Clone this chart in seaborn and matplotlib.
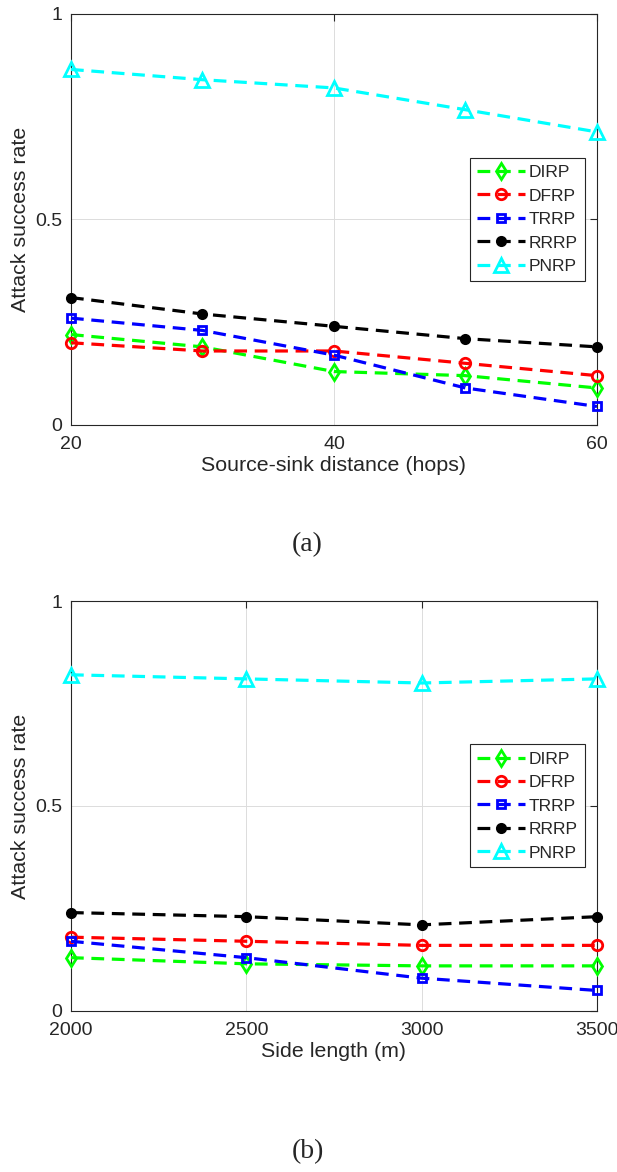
import matplotlib
matplotlib.use("Agg")
import matplotlib.pyplot as plt
import seaborn as sns
import pandas as pd

# ---------------- data ----------------
schemes = ["DIRP", "DFRP", "TRRP", "RRRP", "PNRP"]

hops = [20, 30, 40, 50, 60]
a_dirp = [0.22, 0.19, 0.13, 0.12, 0.09]
a_dfrp = [0.20, 0.18, 0.18, 0.15, 0.12]
a_trrp = [0.26, 0.23, 0.17, 0.09, 0.045]
a_rrrp = [0.31, 0.27, 0.24, 0.21, 0.19]
a_pnrp = [0.865, 0.84, 0.82, 0.767, 0.713]

side = [2000, 2500, 3000, 3500]
b_dirp = [0.13, 0.115, 0.11, 0.11]
b_dfrp = [0.18, 0.17, 0.16, 0.16]
b_trrp = [0.17, 0.13, 0.08, 0.05]
b_rrrp = [0.24, 0.23, 0.21, 0.23]
b_pnrp = [0.82, 0.81, 0.80, 0.81]

yticks = [0, 0.5, 1]
ytick_labels = ["0", "0.5", "1"]
xticks_a = [20, 40, 60]
xticks_b = [2000, 2500, 3000, 3500]
xlabel_a = "Source-sink distance (hops)"
xlabel_b = "Side length (m)"
ylabel = "Attack success rate"

# ---------------- styles ----------------
styles = {
    "DIRP": dict(color="#00FF00", marker="d", ms=8.5, mfc="none"),
    "DFRP": dict(color="#FF0000", marker="o", ms=7.5, mfc="none"),
    "TRRP": dict(color="#0000FF", marker="s", ms=6, mfc="none"),
    "RRRP": dict(color="#000000", marker="o", ms=6, mfc="#000000"),
    "PNRP": dict(color="#00FFFF", marker="^", ms=9.5, mfc="none"),
}

sns.set_style("white")
plt.rcParams["font.family"] = ["Liberation Sans", "DejaVu Sans"]

def long_df(x, series):
    rows = []
    for name, vals in zip(schemes, series):
        for xi, yi in zip(x, vals):
            rows.append({"x": xi, "rate": yi, "scheme": name})
    return pd.DataFrame(rows)

df_a = long_df(hops, [a_dirp, a_dfrp, a_trrp, a_rrrp, a_pnrp])
df_b = long_df(side, [b_dirp, b_dfrp, b_trrp, b_rrrp, b_pnrp])

fig = plt.figure(figsize=(6.17, 11.72), dpi=100)
ax1 = fig.add_axes([0.115, 0.6374, 0.8525, 0.3507])
ax2 = fig.add_axes([0.115, 0.1374, 0.8525, 0.3498])

def draw(ax, df, xlim, xticks, xlabel):
    for name in schemes:
        st = styles[name]
        sub = df[df["scheme"] == name]
        sns.lineplot(data=sub, x="x", y="rate", ax=ax, errorbar=None,
                     color=st["color"], marker=st["marker"],
                     markersize=st["ms"], markerfacecolor=st["mfc"],
                     markeredgecolor=st["color"], markeredgewidth=2.0,
                     linewidth=2.3, linestyle=(0, (4, 2.4)), label=name,
                     zorder=3, clip_on=False)
    ax.set_xlim(*xlim)
    ax.set_ylim(0, 1)
    ax.set_xticks(xticks)
    ax.set_xticklabels([str(t) for t in xticks])
    ax.set_yticks(yticks)
    ax.set_yticklabels(ytick_labels)
    ax.grid(True, color="#DCDCDC", linewidth=0.7)
    ax.set_axisbelow(True)
    for sp in ax.spines.values():
        sp.set_visible(True)
        sp.set_color("#262626")
        sp.set_linewidth(0.8)
    ax.tick_params(axis="both", direction="in", length=5, width=0.8,
                   top=True, right=True, labelsize=14, colors="#262626",
                   labelcolor="#262626")
    ax.tick_params(axis="x", pad=8)
    ax.tick_params(axis="y", pad=6)
    ax.set_xlabel(xlabel, fontsize=15.4, color="#262626", labelpad=2)
    ax.set_ylabel(ylabel, fontsize=15.4, color="#262626", labelpad=4)
    leg = ax.legend(loc="center right", bbox_to_anchor=(0.977, 0.5),
                    borderaxespad=0, fontsize=12.5, frameon=True,
                    fancybox=False, framealpha=1, edgecolor="#262626",
                    handlelength=2.8, handletextpad=0.2, labelspacing=0.48,
                    borderpad=0.4)
    leg.get_frame().set_linewidth(0.8)

draw(ax1, df_a, (20, 60), xticks_a, xlabel_a)
draw(ax2, df_b, (2000, 3500), xticks_b, xlabel_b)

fig.text(307 / 617, 1 - 545 / 1172, "(a)", ha="center", va="center",
         family=["Liberation Serif", "DejaVu Serif"], fontsize=20)
fig.text(308 / 617, 1 - 1152 / 1172, "(b)", ha="center", va="center",
         family=["Liberation Serif", "DejaVu Serif"], fontsize=20)

fig.savefig("out.png", dpi=100)
